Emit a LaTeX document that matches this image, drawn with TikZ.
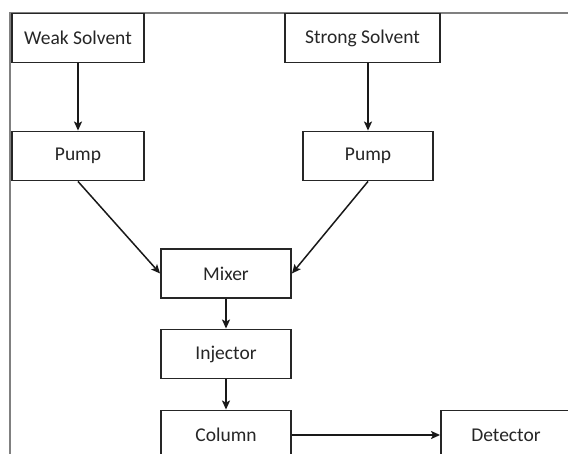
\documentclass[tikz,border=0pt]{standalone}
\usepackage{fontspec}
\setmainfont{Carlito}
\usetikzlibrary{arrows.meta}
\begin{document}
\begin{tikzpicture}[x=1pt,y=-1pt,
  box/.style={draw=black!85,line width=1.9pt,minimum height=49pt,inner sep=0pt,
    font=\fontsize{19.5}{23}\selectfont,text=black!85},
  arr/.style={draw=black!90,line width=1.5pt,-{Stealth[length=9pt,width=8pt,inset=2pt]}},
  frameline/.style={draw=black!50,line width=2pt}]
\useasboundingbox (0,0) rectangle (568,454);
\clip (0,0) rectangle (568,454);
\fill[white] (0,0) rectangle (568,454);
\draw[frameline] (10,600) -- (10,13) -- (600,13);
\node[box,minimum width=132pt] (ws) at (78,38) {Weak Solvent};
\node[box,minimum width=155pt] (ss) at (362.5,38) {Strong Solvent};
\node[box,minimum width=132pt] (p1) at (78,156) {Pump};
\node[box,minimum width=130pt] (p2) at (368,156) {Pump};
\node[box,minimum width=130pt] (mix) at (226,273.5) {Mixer};
\node[box,minimum width=130pt] (inj) at (226,354) {Injector};
\node[box,minimum width=130pt] (col) at (226,435) {Column};
\node[box,minimum width=130pt] (det) at (506,435) {Detector};
\draw[arr] (ws.south) -- (p1.north);
\draw[arr] (ss.south -| p2.north) -- (p2.north);
\draw[arr] (p1.south) -- (mix.west);
\draw[arr] (p2.south) -- (mix.east);
\draw[arr] (mix.south) -- (inj.north);
\draw[arr] (inj.south) -- (col.north);
\draw[arr] (col.east) -- (det.west);
\end{tikzpicture}
\end{document}
